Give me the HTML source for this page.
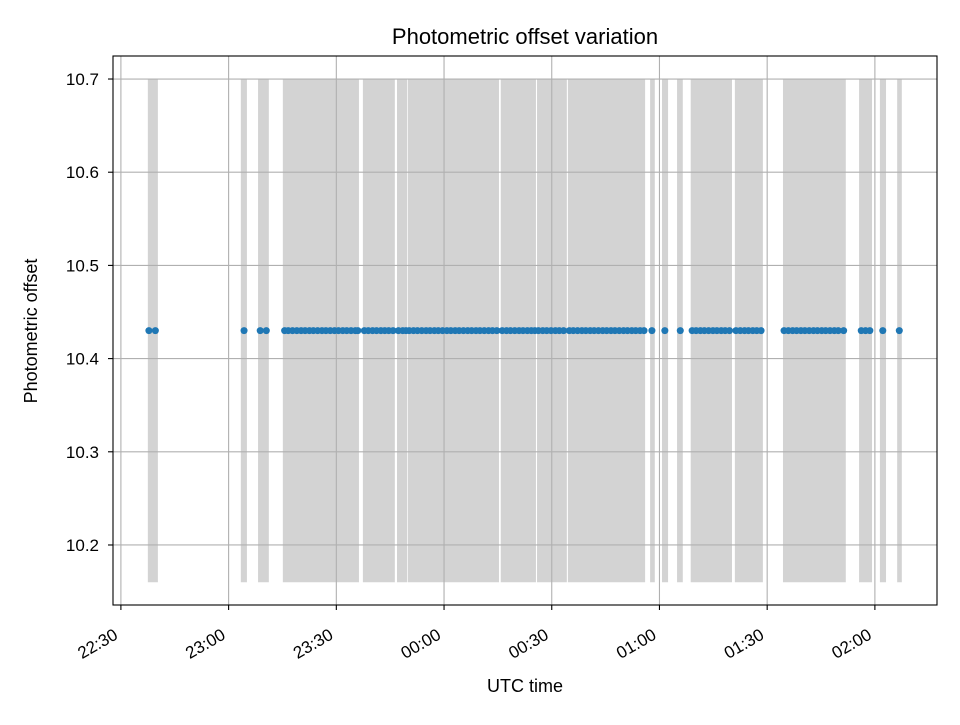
<!DOCTYPE html>
<html><head><meta charset="utf-8"><style>
body{margin:0;background:#fff}
svg text{font-family:"Liberation Sans","DejaVu Sans",sans-serif;fill:#000}
</style></head><body>
<svg id="chart" width="960" height="720" xmlns="http://www.w3.org/2000/svg">
<rect width="960" height="720" fill="#fff"/>
<g id="spans"></g><g id="grid"></g><g id="pts"></g><g id="axes"></g>
<text x="525" y="44" font-size="22" text-anchor="middle">Photometric offset variation</text>
<text x="525" y="692" font-size="18" text-anchor="middle">UTC time</text>
<text x="37" y="331" font-size="18" text-anchor="middle" transform="rotate(-90,37,331)">Photometric offset</text>
</svg>
<script>
// minutes after 22:30 UTC
const spanStart=[7.5,33.4,38.2,45.1,67.4,76.9,79.9,105.8,115.9,124.5,147.4,150.7,154.9,158.7,171.0,184.4,205.6,211.4,216.2];
const spanEnd=[10.3,35.1,41.2,66.3,76.3,79.7,105.3,115.6,124.2,146.0,148.7,152.4,156.5,170.2,178.8,201.9,209.2,213.1,217.5];
const pointTimes=[7.8,9.6,34.3,38.8,40.5,
45.6,46.6,47.8,49.0,50.2,51.3,52.5,53.6,54.8,56.0,57.1,58.3,59.5,60.6,61.8,62.9,64.1,65.3,66.0,
67.8,68.9,70.1,71.2,72.4,73.5,74.6,75.8,77.3,78.5,79.4,
80.3,81.5,82.6,83.8,85.0,86.1,87.3,88.4,89.6,90.8,91.9,93.1,94.2,95.4,96.6,97.7,98.9,100.0,101.2,102.4,103.5,104.7,
106.2,107.4,108.5,109.7,110.9,112.0,113.2,114.3,115.3,
116.3,117.5,118.6,119.8,121.0,122.1,123.3,
124.9,126.0,127.2,128.4,129.5,130.7,131.8,133.0,134.2,135.3,136.5,137.6,138.8,140.0,141.1,142.3,143.4,144.6,145.7,
147.9,151.5,155.8,
159.1,160.2,161.4,162.5,163.7,164.9,166.0,167.2,168.3,169.5,
171.3,172.5,173.7,174.8,176.0,177.1,178.3,
184.7,185.9,187.1,188.2,189.4,190.5,191.7,192.9,194.0,195.2,196.3,197.5,198.7,199.8,201.3,
206.2,207.4,208.6,212.2,216.8];
const pointValues=pointTimes.map(()=>10.43);
const yTicks=[10.2,10.3,10.4,10.5,10.6,10.7];
const xTickMins=[0,30,60,90,120,150,180,210];
const xTickLabels=["22:30","23:00","23:30","00:00","00:30","01:00","01:30","02:00"];
const spanLow=10.16, spanHigh=10.7;

const L=113,R=937,T=56,B=605;
const xMin=-2.2,xMax=227.3,yMin=10.1356,yMax=10.7247;
const X=m=>L+(m-xMin)/(xMax-xMin)*(R-L);
const Y=v=>B-(v-yMin)/(yMax-yMin)*(B-T);
const NS="http://www.w3.org/2000/svg";
function mk(tag,parent,attrs){const e=document.createElementNS(NS,tag);for(const k in attrs)e.setAttribute(k,attrs[k]);document.getElementById(parent).appendChild(e);return e;}

spanStart.forEach((s,i)=>{
 const e=mk('rect','spans',{x:X(s),y:Y(spanHigh),width:X(spanEnd[i])-X(s),height:Y(spanLow)-Y(spanHigh),fill:'#d3d3d3'});
 
 
});
yTicks.forEach(v=>{
 const g=mk('line','grid',{x1:L,x2:R,y1:Y(v),y2:Y(v),stroke:'#b0b0b0','stroke-width':1.1});
 
 
 const t=mk('line','axes',{x1:L-5,x2:L,y1:Y(v),y2:Y(v),stroke:'#000','stroke-width':1.1});
 
 
 const l=mk('text','axes',{x:L-14,y:Y(v)+6,'font-size':17,'text-anchor':'end'});
 l.textContent=v.toFixed(1);
 
 
});
xTickMins.forEach((m,i)=>{
 const g=mk('line','grid',{x1:X(m),x2:X(m),y1:T,y2:B,stroke:'#b0b0b0','stroke-width':1.1});
 
 
 const t=mk('line','axes',{x1:X(m),x2:X(m),y1:B,y2:B+5,stroke:'#000','stroke-width':1.1});
 
 
 const x=X(m)-2,y=638;
 const l=mk('text','axes',{x:x,y:y,'font-size':17,'text-anchor':'end',transform:`rotate(-30,${x},${y})`});
 l.textContent=xTickLabels[i];
 
 
});
pointTimes.forEach((m,i)=>{
 const c=mk('circle','pts',{cx:X(m),cy:Y(pointValues[i]),r:3.5,fill:'#1f77b4'});
 
 
});
const f=mk('rect','axes',{x:L,y:T,width:R-L,height:B-T,fill:'none',stroke:'#000','stroke-width':1.1});


</script>
</body></html>
